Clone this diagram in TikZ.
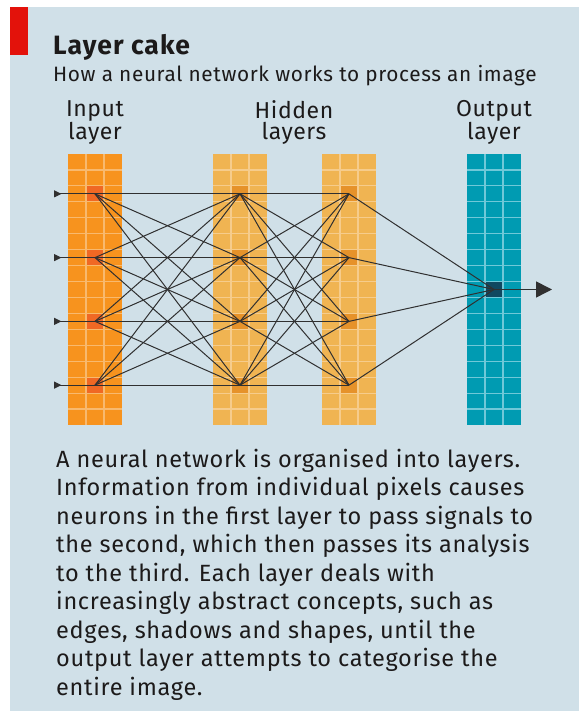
\documentclass[tikz,border=0pt]{standalone}
\usepackage{fontspec}
\setmainfont{Fira Sans}
\newfontfamily\spfont[LetterSpace=3]{Fira Sans}
\newfontfamily\ttlfont[LetterSpace=4]{Fira Sans}
\newfontfamily\labfont[LetterSpace=2.5]{Fira Sans}
\usetikzlibrary{arrows.meta}
\definecolor{bg}{RGB}{208,224,232}
\definecolor{ered}{RGB}{227,18,11}
\definecolor{inFill}{RGB}{247,147,30}
\definecolor{inGrid}{RGB}{248,185,110}
\definecolor{inNeuron}{RGB}{240,104,36}
\definecolor{hidFill}{RGB}{240,180,82}
\definecolor{hidGrid}{RGB}{246,204,140}
\definecolor{hidNeuron}{RGB}{230,146,42}
\definecolor{outFill}{RGB}{0,155,178}
\definecolor{outGrid}{RGB}{112,200,216}
\definecolor{outNeuron}{RGB}{16,72,96}
\definecolor{linec}{RGB}{48,48,48}
\definecolor{txt}{RGB}{28,26,26}
\newcommand\mygridcol[2]{%
  \foreach \k in {1,2} \draw[#2, line width=1.2pt] (#1+18*\k,154) -- (#1+18*\k,425);
  \foreach \r in {1,...,16} \draw[#2, line width=1.2pt] (#1,154+15.94*\r) -- (#1+54,154+15.94*\r);
}
\begin{document}
\begin{tikzpicture}[x=1pt,y=-1pt,
  colbox/.style={minimum width=54pt, minimum height=271pt, inner sep=0pt, outer sep=0pt, draw=none},
  cell/.style={minimum width=18pt, minimum height=15.94pt, inner sep=0pt, outer sep=0pt, draw=none},
  conn/.style={draw=linec, line width=1pt},
  lab/.style={font=\labfont\fontsize{23}{21}\selectfont, align=center, text=txt, inner sep=0pt},
  body/.style={font=\spfont\fontsize{23.5}{28.5}\selectfont, align=left, text=txt, inner sep=0pt, anchor=base west}]
\useasboundingbox (0,0) rectangle (579,711);
\fill[white] (0,0) rectangle (579,711);
\fill[bg] (10,7) rectangle (579,711);
\fill[ered] (10,7) rectangle (28,55);
% titles
\node[anchor=base west, inner sep=0pt, text=txt, font=\ttlfont\fontsize{26.5}{26}\selectfont\bfseries] (title) at (53,55) {Layer cake};
\node[anchor=base west, inner sep=0pt, text=txt, font=\spfont\fontsize{20.8}{20}\selectfont] (subtitle) at (53,82) {How a neural network works to process an image};
% layer labels
\node[lab, anchor=base] (linput) at (95,140) {Input\\layer};
\node[lab, anchor=base] (lhidden) at (294,140) {Hidden\\layers};
\node[lab, anchor=base] (loutput) at (494,140) {Output\\layer};
% columns
\node[colbox, fill=inFill] (colI) at (95,289.5) {};
\node[colbox, fill=hidFill] (colH1) at (240,289.5) {};
\node[colbox, fill=hidFill] (colH2) at (349,289.5) {};
\node[colbox, fill=outFill] (colO) at (494,289.5) {};
% neurons
\foreach \r [count=\i] in {2,6,10,14} {
  \node[cell, fill=inNeuron] (i\i) at (95,154+15.94*\r+7.97) {};
  \node[cell, fill=hidNeuron] (a\i) at (240,154+15.94*\r+7.97) {};
  \node[cell, fill=hidNeuron] (b\i) at (349,154+15.94*\r+7.97) {};
}
\node[cell, fill=outNeuron] (o1) at (494,154+15.94*8+7.97) {};
% grids
\mygridcol{68}{inGrid}
\mygridcol{213}{hidGrid}
\mygridcol{322}{hidGrid}
\mygridcol{467}{outGrid}
% connections
\foreach \p in {1,...,4} {
  \coordinate (s\p) at (54,154+15.94*4*\p-15.94*4+15.94*2+7.97);
  \draw[conn, {Triangle[reversed, length=7.5pt, width=7pt]}-] (s\p) -- (i\p.center);
  \foreach \q in {1,...,4} {
    \draw[conn] (i\p.center) -- (a\q.center);
    \draw[conn] (a\p.center) -- (b\q.center);
  }
  \draw[conn] (b\p.center) -- (o1.center);
}
\coordinate (oend) at (552,154+15.94*8+7.97);
\draw[conn, line width=1.5pt, -{Triangle[length=16pt, width=16pt]}] (o1.center) -- (oend);
% body text
\node[body] (bodytext) at (56,695) {A neural network is organised into layers.\\
Information from individual pixels causes\\
neurons in the first layer to pass signals to\\
the second, which then passes its analysis\\
to the third. Each layer deals with\\
increasingly abstract concepts, such as\\
edges, shadows and shapes, until the\\
output layer attempts to categorise the\\
entire image.};
\end{tikzpicture}
\end{document}
